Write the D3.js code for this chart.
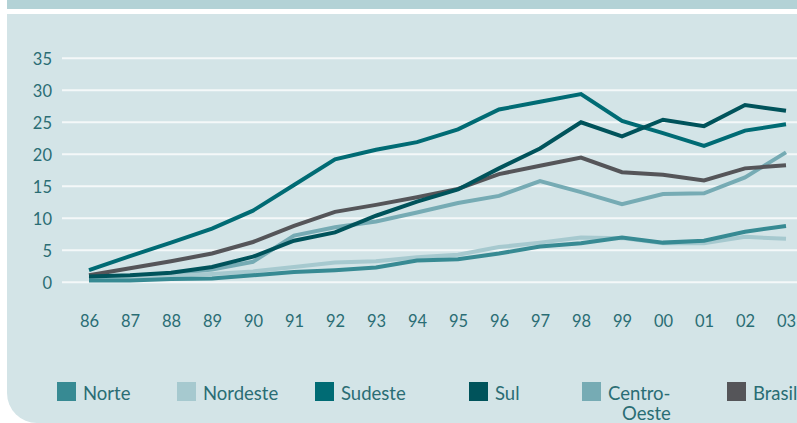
<!DOCTYPE html>
<html>
<head>
<meta charset="utf-8">
<script src="https://cdn.jsdelivr.net/npm/d3@7/dist/d3.min.js"></script>
<style>
  html, body { margin: 0; padding: 0; background: #ffffff; }
  svg { display: block; }
  text { font-family: Lato, "Open Sans", sans-serif; fill: #2a6d74; }
</style>
</head>
<body>
<svg id="chart" width="797" height="423"></svg>
<script>
// Years on the horizontal axis
const years = ["86","87","88","89","90","91","92","93","94","95","96","97","98","99","00","01","02","03"];
const yTicks = [0, 5, 10, 15, 20, 25, 30, 35];

// Series values by region
const norte       = [0.3, 0.3, 0.5, 0.6, 1.1, 1.6, 1.9, 2.3, 3.4, 3.6, 4.5, 5.6, 6.1, 7.0, 6.2, 6.5, 7.9, 8.8];
const nordeste    = [0.6, 0.8, 1.0, 1.3, 1.7, 2.4, 3.1, 3.3, 3.9, 4.3, 5.5, 6.2, 7.0, 6.9, 6.1, 6.1, 7.1, 6.8];
const sudeste     = [1.9, 4.1, 6.2, 8.4, 11.2, 15.2, 19.2, 20.7, 21.9, 23.9, 27.0, 28.2, 29.4, 25.2, 23.3, 21.3, 23.7, 24.7];
const sul         = [0.9, 1.1, 1.5, 2.4, 4.0, 6.5, 7.8, 10.4, 12.6, 14.5, 17.8, 20.9, 25.0, 22.8, 25.4, 24.4, 27.7, 26.8];
const centroOeste = [0.6, 0.9, 1.3, 2.0, 3.2, 7.3, 8.6, 9.5, 10.9, 12.4, 13.5, 15.8, 14.1, 12.2, 13.8, 13.9, 16.4, 20.3];
const brasil      = [1.1, 2.2, 3.3, 4.5, 6.3, 8.8, 11.0, 12.1, 13.3, 14.6, 16.9, 18.2, 19.5, 17.2, 16.8, 15.9, 17.8, 18.3];

const seriesNames  = ["Norte", "Nordeste", "Sudeste", "Sul", "Centro-Oeste", "Brasil"];
const seriesColors = ["#378a93", "#a6c9cf", "#006b74", "#00535b", "#76abb4", "#555559"];
const seriesValues = [norte, nordeste, sudeste, sul, centroOeste, brasil];

const svg = d3.select("#chart");

// Header band and rounded panel
svg.append("rect").attr("x", 7).attr("y", 0).attr("width", 800).attr("height", 9).attr("fill", "#b3d2d6");
svg.append("path")
  .attr("d", "M7,14 H797 V423 H37 A30,30 0 0 1 7,393 Z")
  .attr("fill", "#d3e4e7");

const x = d3.scalePoint().domain(years).range([89, 786]);
const y = d3.scaleLinear().domain([0, 35]).range([282.3, 58.3]);

// Horizontal gridlines
svg.append("g").selectAll("line").data(yTicks).join("line")
  .attr("x1", 62).attr("x2", 797)
  .attr("y1", d => y(d)).attr("y2", d => y(d))
  .attr("stroke", "#f4f8f9").attr("stroke-width", 2);

// Y axis labels
const yAxis = d3.axisLeft(y).tickValues(yTicks).tickSize(0).tickPadding(0);
const gy = svg.append("g").attr("transform", "translate(52,0)").call(yAxis);
gy.select(".domain").remove();
gy.selectAll("text").attr("font-size", 16.5).attr("fill", "#2a6d74")
  .attr("font-family", "Lato, sans-serif").attr("dy", "0.35em");

// X axis labels
const xAxis = d3.axisBottom(x).tickSize(0).tickPadding(0);
const gx = svg.append("g").attr("transform", "translate(0,315)").call(xAxis);
gx.select(".domain").remove();
gx.selectAll("text").attr("font-size", 16.5).attr("fill", "#2a6d74")
  .attr("font-family", "Lato, sans-serif");

// Lines
const line = d3.line().x((d, i) => x(years[i])).y(d => y(d));
const drawOrder = [4, 1, 0, 5, 2, 3];
svg.append("g").selectAll("path").data(drawOrder).join("path")
  .attr("d", k => line(seriesValues[k]))
  .attr("fill", "none")
  .attr("stroke", k => seriesColors[k])
  .attr("stroke-width", 4)
  .attr("stroke-linejoin", "miter");

// Legend
const legendX = [57, 177, 315, 469, 582, 727];
const lg = svg.append("g").selectAll("g").data(seriesNames).join("g")
  .attr("transform", (d, i) => `translate(${legendX[i]},382)`);
lg.append("rect").attr("width", 19).attr("height", 19).attr("fill", (d, i) => seriesColors[i]);
lg.each(function(d) {
  const t = d3.select(this).append("text").attr("x", 26).attr("y", 18)
    .attr("font-size", 18.5);
  if (d === "Centro-Oeste") {
    t.append("tspan").attr("x", 26).text("Centro-");
    t.append("tspan").attr("x", 40).attr("dy", 20).text("Oeste");
  } else {
    t.text(d);
  }
});
</script>
</body>
</html>
